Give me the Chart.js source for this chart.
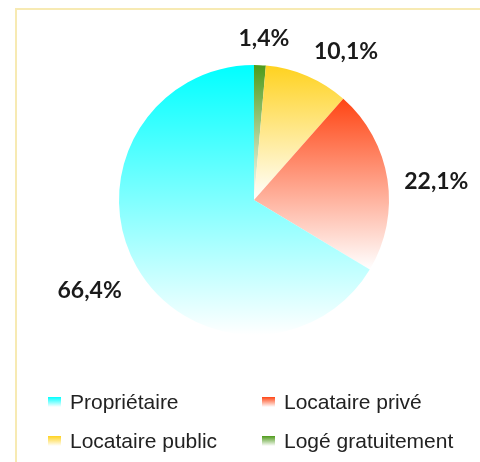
<!DOCTYPE html>
<html>
<head>
<meta charset="utf-8">
<script src="https://cdn.jsdelivr.net/npm/chart.js@4/dist/chart.umd.min.js"></script>
<style>
  html, body { margin: 0; background: #fff; overflow: hidden; }
  #wrap { position: relative; width: 480px; height: 462px; overflow: hidden; }
  #myPie { position: absolute; left: 0; top: 0; }
  #legend { position: absolute; left: 48px; top: 390px; display: grid;
            grid-template-columns: 214px 200px; row-gap: 15px;
            font-family: "Liberation Sans", Arial, sans-serif; font-size: 21px; color: #222; }
  #legend div { display: flex; align-items: center; height: 24px; }
  #legend span.box { display: inline-block; width: 13px; height: 10px; margin-right: 9px; }
</style>
</head>
<body>
<div id="wrap">
  <canvas id="myPie" width="480" height="462"></canvas>
  <div id="legend"></div>
</div>
<script>
/****pie data*****/
const categories = ['Propriétaire', 'Locataire privé', 'Locataire public', 'Logé gratuitement'];
const shares = [66.4, 22.1, 10.1, 1.4];
const topColors = ['#00ffff', '#ff4514', '#ffd21f', '#4e9a1a'];

// the original is drawn counter-clockwise, so feed chart.js the reversed order
const drawLabels = categories.slice().reverse();
const drawShares = shares.slice().reverse();
const drawColors = topColors.slice().reverse();

function sliceFill(ctx) {
  const chart = ctx.chart;
  const area = chart.chartArea;
  const c = drawColors[ctx.dataIndex];
  if (!area) return c;
  const cx = (area.left + area.right) / 2, cy = (area.top + area.bottom) / 2;
  const r = Math.min(area.right - area.left, area.bottom - area.top) / 2;
  // angles clockwise from top, in degrees
  let before = 0;
  for (let i = 0; i < ctx.dataIndex; i++) before += drawShares[i];
  const total = drawShares.reduce((a, b) => a + b, 0);
  const a0 = before / total * 360, a1 = (before + drawShares[ctx.dataIndex]) / total * 360;
  const yAt = a => cy - r * Math.cos(a * Math.PI / 180);
  let ys = [cy, yAt(a0), yAt(a1)];
  if (a0 <= 0 || a1 >= 360) ys.push(cy - r);
  if (a0 <= 180 && a1 >= 180) ys.push(cy + r);
  const g = chart.ctx.createLinearGradient(0, Math.min(...ys), 0, Math.max(...ys));
  g.addColorStop(0, c);
  g.addColorStop(1, '#ffffff');
  return g;
}

// pale frame, only its top and left edges are inside the picture
const frame = {
  id: 'frame',
  beforeDraw(chart) {
    const ctx = chart.ctx;
    ctx.save();
    ctx.strokeStyle = '#f7eab3';
    ctx.lineWidth = 2;
    ctx.beginPath();
    ctx.moveTo(16, chart.height);
    ctx.lineTo(16, 9);
    ctx.lineTo(chart.width, 9);
    ctx.stroke();
    ctx.restore();
  }
};

// percentage labels outside the pie, anchored a bit past the rim
const outsideLabels = {
  id: 'outsideLabels',
  afterDatasetsDraw(chart) {
    const ctx = chart.ctx;
    const meta = chart.getDatasetMeta(0);
    ctx.save();
    ctx.font = 'bold 23px Lato, "Open Sans", sans-serif';
    ctx.fillStyle = '#1a1a1a';
    ctx.textAlign = 'center';
    ctx.textBaseline = 'middle';
    meta.data.forEach((arc, i) => {
      const mid = (arc.startAngle + arc.endAngle) / 2;
      const txt = drawShares[i].toFixed(1).replace('.', ',') + '%';
      const w = ctx.measureText(txt).width;
      const ux = Math.cos(mid), uy = Math.sin(mid);
      const d = arc.outerRadius + 17;
      const ax = arc.x + ux * d, ay = arc.y + uy * d;
      const hx = Math.max(-1, Math.min(1, ux / 0.35));
      ctx.fillText(txt, ax + hx * w / 2, ay + 7 + 17 * uy);
    });
    ctx.restore();
  }
};

const pieConfig = {
  type: 'pie',
  data: {
    labels: drawLabels,
    datasets: [{
      data: drawShares,
      backgroundColor: sliceFill,
      borderWidth: 0
    }]
  },
  options: {
    responsive: false,
    animation: false,
    layout: { padding: { left: 119, right: 91, top: 65, bottom: 127 } },
    plugins: {
      legend: { display: false },
      tooltip: { enabled: false }
    }
  },
  plugins: [frame, outsideLabels]
};

var myChart = new Chart(document.getElementById('myPie'), pieConfig);

// legend, in the original reading order
const legendEl = document.getElementById('legend');
categories.forEach((name, i) => {
  const item = document.createElement('div');
  const box = document.createElement('span');
  box.className = 'box';
  box.style.background = 'linear-gradient(' + topColors[i] + ', #ffffff)';
  item.appendChild(box);
  item.appendChild(document.createTextNode(name));
  legendEl.appendChild(item);
});
/*****************/
</script>
</body>
</html>
